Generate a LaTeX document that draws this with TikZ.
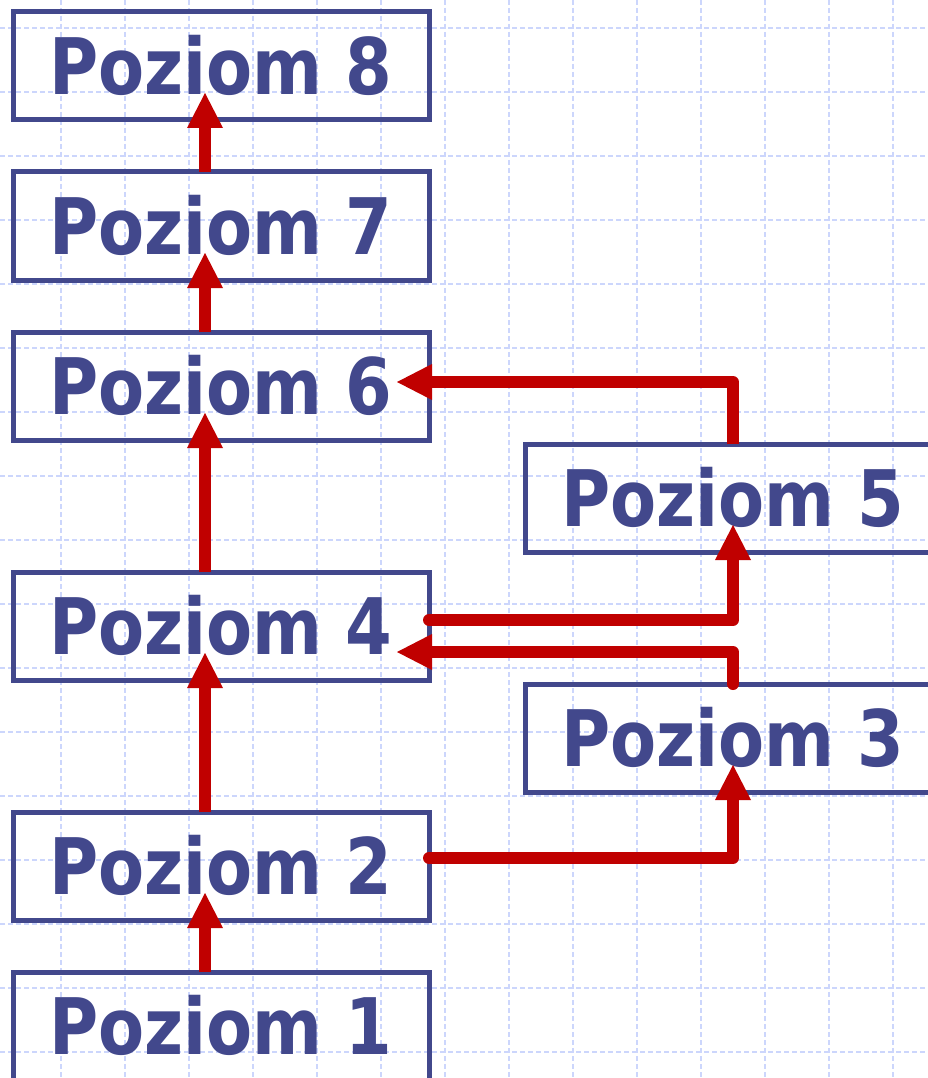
\documentclass[tikz,border=0pt]{standalone}
\usepackage{fontspec}
\setmainfont{DejaVu Sans}
\usepackage{graphicx}
\usetikzlibrary{arrows.meta}
\definecolor{boxblue}{RGB}{66,72,140}
\definecolor{arrred}{RGB}{192,0,0}
\definecolor{gridblue}{RGB}{204,214,252}
\newcommand{\lvltext}[1]{\scalebox{0.86}[1]{\fontsize{78}{80}\selectfont\bfseries Poziom #1}}
\begin{document}
\begin{tikzpicture}[x=1pt,y=-1pt,
  levelbox/.style={draw=boxblue, line width=5pt, minimum width=416pt, minimum height=108pt,
    inner sep=0pt, outer sep=0pt, text=boxblue, text height=57pt, text depth=0pt},
  gridline/.style={draw=gridblue, line width=1.1pt, dash pattern=on 5pt off 3pt},
  arr/.style={draw=arrred, line width=12pt, line join=round,
    -{Triangle[length=35pt,width=36pt,line width=0pt]}},
  roundstart/.style={line cap=round}]
\useasboundingbox (0,0) rectangle (928,1078);
\clip (0,0) rectangle (928,1078);
% grid
\foreach \gx in {61,125,...,893} \draw[gridline] (\gx,0) -- (\gx,1078);
\foreach \gy in {28,92,...,1052} \draw[gridline] (0,\gy) -- (928,\gy);
% boxes
\node[levelbox] (b8) at (221,66) {\lvltext{8}};
\node[levelbox] (b7) at (221,226) {\lvltext{7}};
\node[levelbox] (b6) at (221,386) {\lvltext{6}};
\node[levelbox] (b4) at (221,626) {\lvltext{4}};
\node[levelbox] (b2) at (221,866) {\lvltext{2}};
\node[levelbox] (b1) at (221,1026) {\lvltext{1}};
\node[levelbox] (b5) at (733,498) {\lvltext{5}};
\node[levelbox] (b3) at (733,738) {\lvltext{3}};
% vertical arrows in left column
\draw[arr] ([xshift=-16pt]b1.north) -- ([xshift=-16pt,yshift=27pt]b2.south);
\draw[arr] ([xshift=-16pt]b2.north) -- ([xshift=-16pt,yshift=27pt]b4.south);
\draw[arr] ([xshift=-16pt]b4.north) -- ([xshift=-16pt,yshift=27pt]b6.south);
\draw[arr] ([xshift=-16pt]b6.north) -- ([xshift=-16pt,yshift=27pt]b7.south);
\draw[arr] ([xshift=-16pt]b7.north) -- ([xshift=-16pt,yshift=27pt]b8.south);
% side connections
\draw[arr] (b5.north) |- ([xshift=-32pt,yshift=4pt]b6.east);
\draw[arr,roundstart] ([yshift=6pt]b4.east) -| ([yshift=27pt]b5.south);
\draw[arr,roundstart] (b3.north) |- ([xshift=-32pt,yshift=-26pt]b4.east);
\draw[arr,roundstart] ([yshift=8pt]b2.east) -| ([yshift=27pt]b3.south);
\end{tikzpicture}
\end{document}
